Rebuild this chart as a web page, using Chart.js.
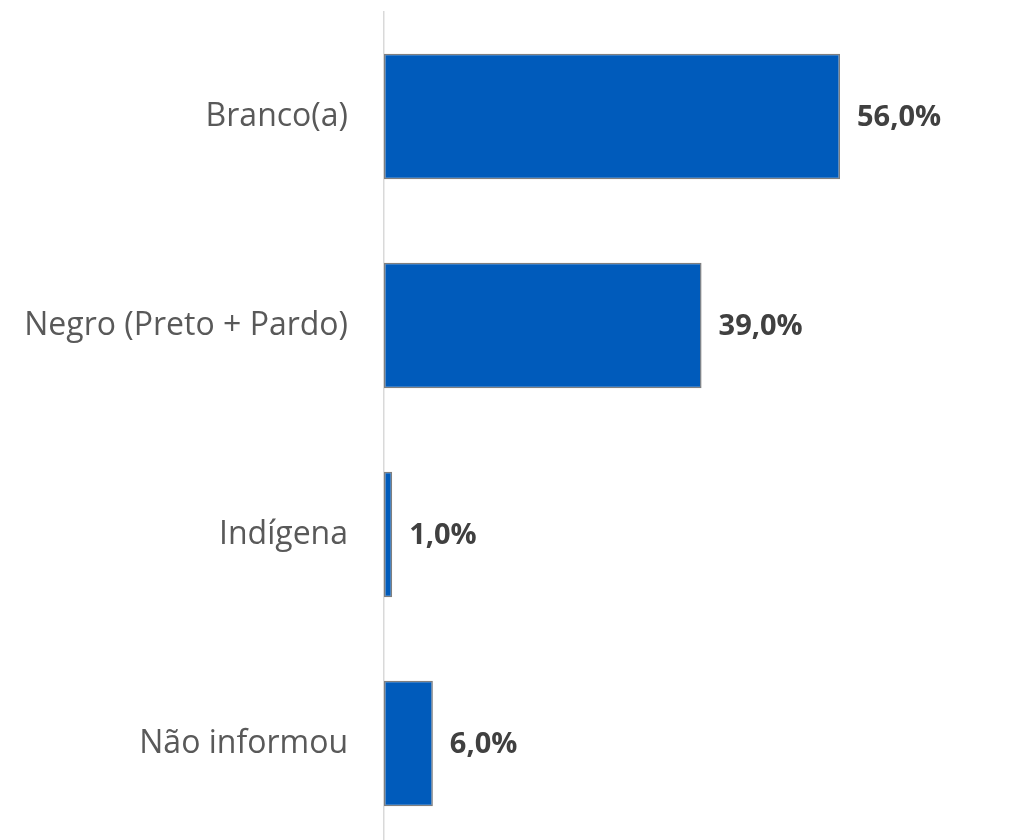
<!DOCTYPE html>
<html>
<head>
<meta charset="utf-8">
<script src="https://cdn.jsdelivr.net/npm/chart.js@4.4.1/dist/chart.umd.min.js"></script>
<style>
  html, body { margin: 0; padding: 0; background: #fff; overflow: hidden; }
  #wrap { width: 1025px; height: 848px; }
</style>
</head>
<body>
<div id="wrap"><canvas id="grafico" width="1025" height="848"></canvas></div>
<script>
// Dados do gráfico
const categorias = ['Branco(a)', 'Negro (Preto + Pardo)', 'Indígena', 'Não informou'];
const percentuais = [56.0, 39.0, 1.0, 6.0];
const rotulos = ['56,0%', '39,0%', '1,0%', '6,0%'];

// Plugin simples para escrever os rótulos ao lado das barras
const rotulosBarras = {
    id: 'rotulosBarras',
    afterDatasetsDraw(chart) {
        const ctx = chart.ctx;
        const meta = chart.getDatasetMeta(0);
        ctx.save();
        ctx.font = 'bold 29px "Open Sans"';
        ctx.fillStyle = '#404040';
        ctx.textAlign = 'left';
        ctx.textBaseline = 'middle';
        meta.data.forEach((bar, i) => {
            ctx.fillText(rotulos[i], bar.x + 17, bar.y + 1);
        });
        ctx.restore();
    }
};

let ctx = document.getElementById('grafico').getContext('2d');
let grafico = new Chart(ctx, {
    type: 'bar',
    data: {
        labels: categorias,
        datasets: [{
            data: percentuais,
            backgroundColor: '#005BBB',
            borderColor: '#7f7f7f',
            borderWidth: 1.5,
            borderSkipped: false,
            barPercentage: 0.6,
            categoryPercentage: 1.0
        }]
    },
    options: {
        indexAxis: 'y',
        responsive: false,
        animation: false,
        layout: { padding: { top: 12, right: 71, bottom: 0, left: 0 } },
        plugins: {
            legend: { display: false },
            tooltip: { enabled: false }
        },
        scales: {
            x: { display: false, min: 0, max: 70 },
            y: {
                afterFit(scale) {
                    scale.width = 384;
                    scale.paddingTop = 0;
                    scale.paddingBottom = 0;
                },
                grid: { display: false },
                border: { display: true, color: '#d9d9d9', width: 1.5 },
                ticks: { color: '#595959', font: { family: 'Open Sans', size: 32 }, padding: 28 }
            }
        }
    },
    plugins: [rotulosBarras]
});
</script>
</body>
</html>
